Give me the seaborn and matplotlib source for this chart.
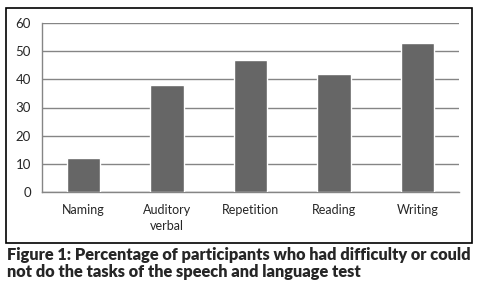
import matplotlib
matplotlib.use("Agg")
import matplotlib.pyplot as plt
import matplotlib.patches as mpatches
import seaborn as sns
import pandas as pd

# data
tasks = ["Naming", "Auditory\nverbal", "Repetition", "Reading", "Writing"]
percent = [12, 38, 47, 42, 53]
y_ticks = [0, 10, 20, 30, 40, 50, 60]

df = pd.DataFrame({"task": tasks, "percent": percent})

sns.set_style("white")
plt.rcParams["font.family"] = ["Lato", "DejaVu Sans"]

fig = plt.figure(figsize=(4.78, 2.86), dpi=100)

# frame around the chart
fig.patches.append(mpatches.Rectangle((6 / 478, 43 / 286), 466 / 478, 235 / 286,
                                      transform=fig.transFigure, fill=False,
                                      edgecolor="black", linewidth=1.2))

ax = fig.add_axes([42 / 478, 94 / 286, 417 / 478, 169 / 286])
sns.barplot(data=df, x="task", y="percent", color="#666666", width=0.4,
            saturation=1, ax=ax, zorder=3)

ax.set_ylim(0, 60)
ax.set_xlim(-0.5, len(tasks) - 0.5)
ax.set_yticks(y_ticks)
ax.yaxis.grid(True, color="#858585", linewidth=1.0, zorder=0)
ax.set_axisbelow(True)
ax.set_xlabel("")
ax.set_ylabel("")

for side in ["top", "right"]:
    ax.spines[side].set_visible(False)
for side in ["left", "bottom"]:
    ax.spines[side].set_color("#858585")
    ax.spines[side].set_linewidth(1.0)

# category boundary ticks on the x axis
ax.set_xticks([i - 0.5 for i in range(len(tasks) + 1)], minor=True)
ax.tick_params(axis="x", which="minor", length=4, direction="out", color="#858585")
ax.tick_params(axis="x", which="major", length=0, labelsize=9, pad=9)
ax.tick_params(axis="y", length=4, direction="out", color="#858585", labelsize=9.5, pad=4)
ax.set_xticks(range(len(tasks)))
ax.set_xticklabels(tasks, linespacing=1.3)

cap_style = dict(fontsize=11.8, fontweight="heavy", va="baseline", ha="left")
fig.text(7 / 478, 1 - 260 / 286,
         "Figure 1: Percentage of participants who had difficulty or could", **cap_style)
fig.text(7 / 478, 1 - 277 / 286,
         "not do the tasks of the speech and language test", **cap_style)

fig.savefig("out.png", dpi=100)
